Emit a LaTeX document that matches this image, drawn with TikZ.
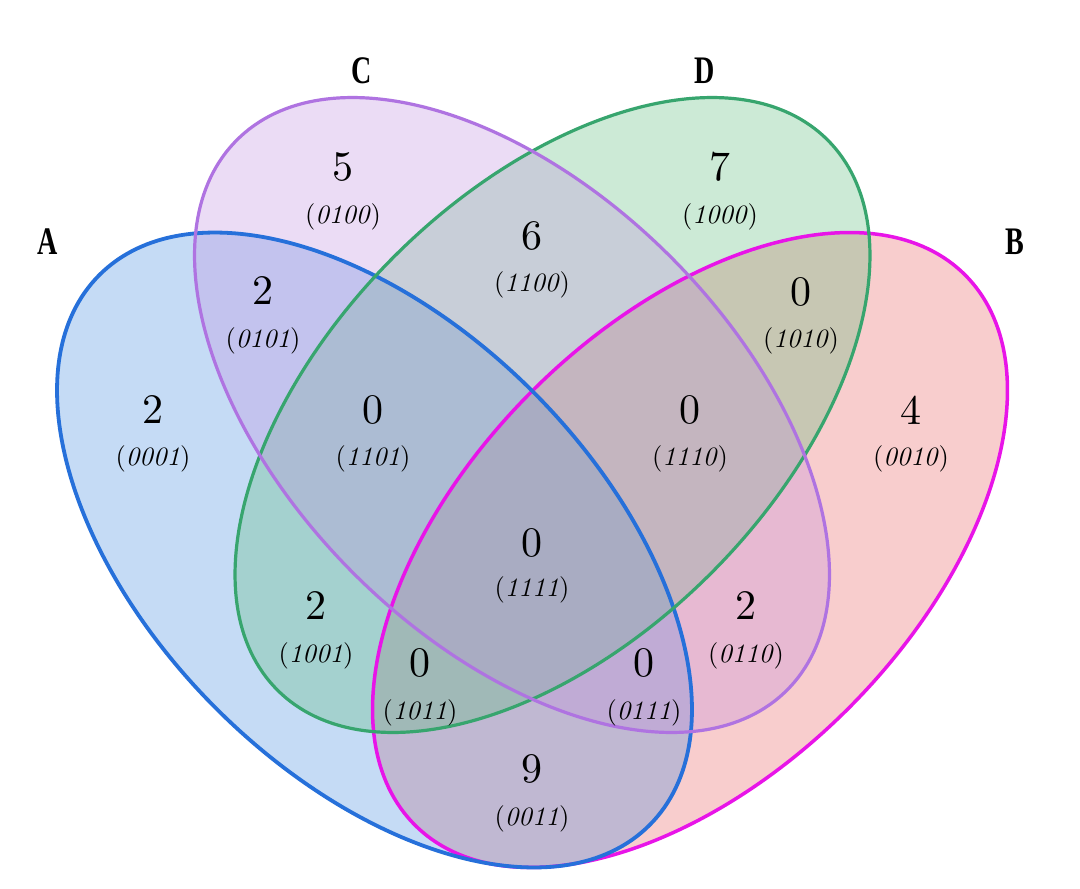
\documentclass[tikz,border=0pt]{standalone}
\usepackage{fontspec}
\newfontfamily\numfont{lmroman10-regular.otf}[ItalicFont=lmroman10-italic.otf]
\newfontfamily\labfont{Liberation Serif}
\begin{document}
\begin{tikzpicture}[x=1pt,y=1pt]
\definecolor{strokeA}{RGB}{38,112,218}
\definecolor{strokeB}{RGB}{232,20,232}
\definecolor{strokeC}{RGB}{175,115,225}
\definecolor{strokeD}{RGB}{55,165,110}
\definecolor{fillA}{RGB}{65,138,222}
\definecolor{fillB}{RGB}{232,92,92}
\definecolor{fillC}{RGB}{192,142,222}
\definecolor{fillD}{RGB}{88,188,122}
\tikzset{
  num/.style={font=\numfont\fontsize{42}{44}\selectfont, inner sep=0pt},
  code/.style={font=\numfont\fontsize{26.5}{30}\selectfont, inner sep=0pt},
  setlab/.style={font=\labfont\bfseries\fontsize{39}{42}\selectfont, xscale=0.72, inner sep=0pt},
  setfill/.style={fill opacity=0.3},
}
\fill[white] (0,0) rectangle (1080,-889);
\useasboundingbox (0,0) rectangle (1080,-889);
\coordinate (cA) at (374.5,-550);
\coordinate (cB) at (690,-550);
\coordinate (cC) at (512,-415);
\coordinate (cD) at (552.5,-415);
% fills
\fill[fillB, setfill, rotate around={45:(cB)}] (cB) ellipse [x radius=389pt, y radius=224pt];
\fill[fillA, setfill, rotate around={-45:(cA)}] (cA) ellipse [x radius=389pt, y radius=224pt];
\fill[fillD, setfill, rotate around={45:(cD)}] (cD) ellipse [x radius=389pt, y radius=224pt];
\fill[fillC, setfill, rotate around={-45:(cC)}] (cC) ellipse [x radius=389pt, y radius=224pt];
% outlines
\draw[strokeB, line width=3.5pt, rotate around={45:(cB)}] (cB) ellipse [x radius=389pt, y radius=224pt];
\draw[strokeA, line width=3.8pt, rotate around={-45:(cA)}] (cA) ellipse [x radius=389pt, y radius=224pt];
\draw[strokeD, line width=3.2pt, rotate around={45:(cD)}] (cD) ellipse [x radius=389pt, y radius=224pt];
\draw[strokeC, line width=3.2pt, rotate around={-45:(cC)}] (cC) ellipse [x radius=389pt, y radius=224pt];
% set labels
\node[setlab] (labA) at (48,-242) {A};
\node[setlab] (labC) at (362,-71) {C};
\node[setlab] (labD) at (705,-71) {D};
\node[setlab] (labB) at (1015,-242) {B};
% region counts
\node[num] (n0100) at (343,-167) {5};
\node[code] (c0100) at (343,-217) {(\textit{0100})};
\node[num] (n1000) at (720,-167) {7};
\node[code] (c1000) at (720,-217) {(\textit{1000})};
\node[num] (n1100) at (532,-236) {6};
\node[code] (c1100) at (532,-285) {(\textit{1100})};
\node[num] (n0101) at (263,-291) {2};
\node[code] (c0101) at (263,-341) {(\textit{0101})};
\node[num] (n1010) at (801,-292) {0};
\node[code] (c1010) at (801,-341) {(\textit{1010})};
\node[num] (n0001) at (153,-410) {2};
\node[code] (c0001) at (153,-459) {(\textit{0001})};
\node[num] (n1101) at (373,-410) {0};
\node[code] (c1101) at (373,-459) {(\textit{1101})};
\node[num] (n1110) at (690,-410) {0};
\node[code] (c1110) at (690,-459) {(\textit{1110})};
\node[num] (n0010) at (911,-410) {4};
\node[code] (c0010) at (911,-459) {(\textit{0010})};
\node[num] (n1111) at (532,-543) {0};
\node[code] (c1111) at (532,-590) {(\textit{1111})};
\node[num] (n1001) at (316,-606) {2};
\node[code] (c1001) at (316,-656) {(\textit{1001})};
\node[num] (n0110) at (746,-606) {2};
\node[code] (c0110) at (746,-656) {(\textit{0110})};
\node[num] (n1011) at (420,-663) {0};
\node[code] (c1011) at (420,-713) {(\textit{1011})};
\node[num] (n0111) at (644,-663) {0};
\node[code] (c0111) at (644,-713) {(\textit{0111})};
\node[num] (n0011) at (532,-769) {9};
\node[code] (c0011) at (532,-819) {(\textit{0011})};
\end{tikzpicture}
\end{document}
